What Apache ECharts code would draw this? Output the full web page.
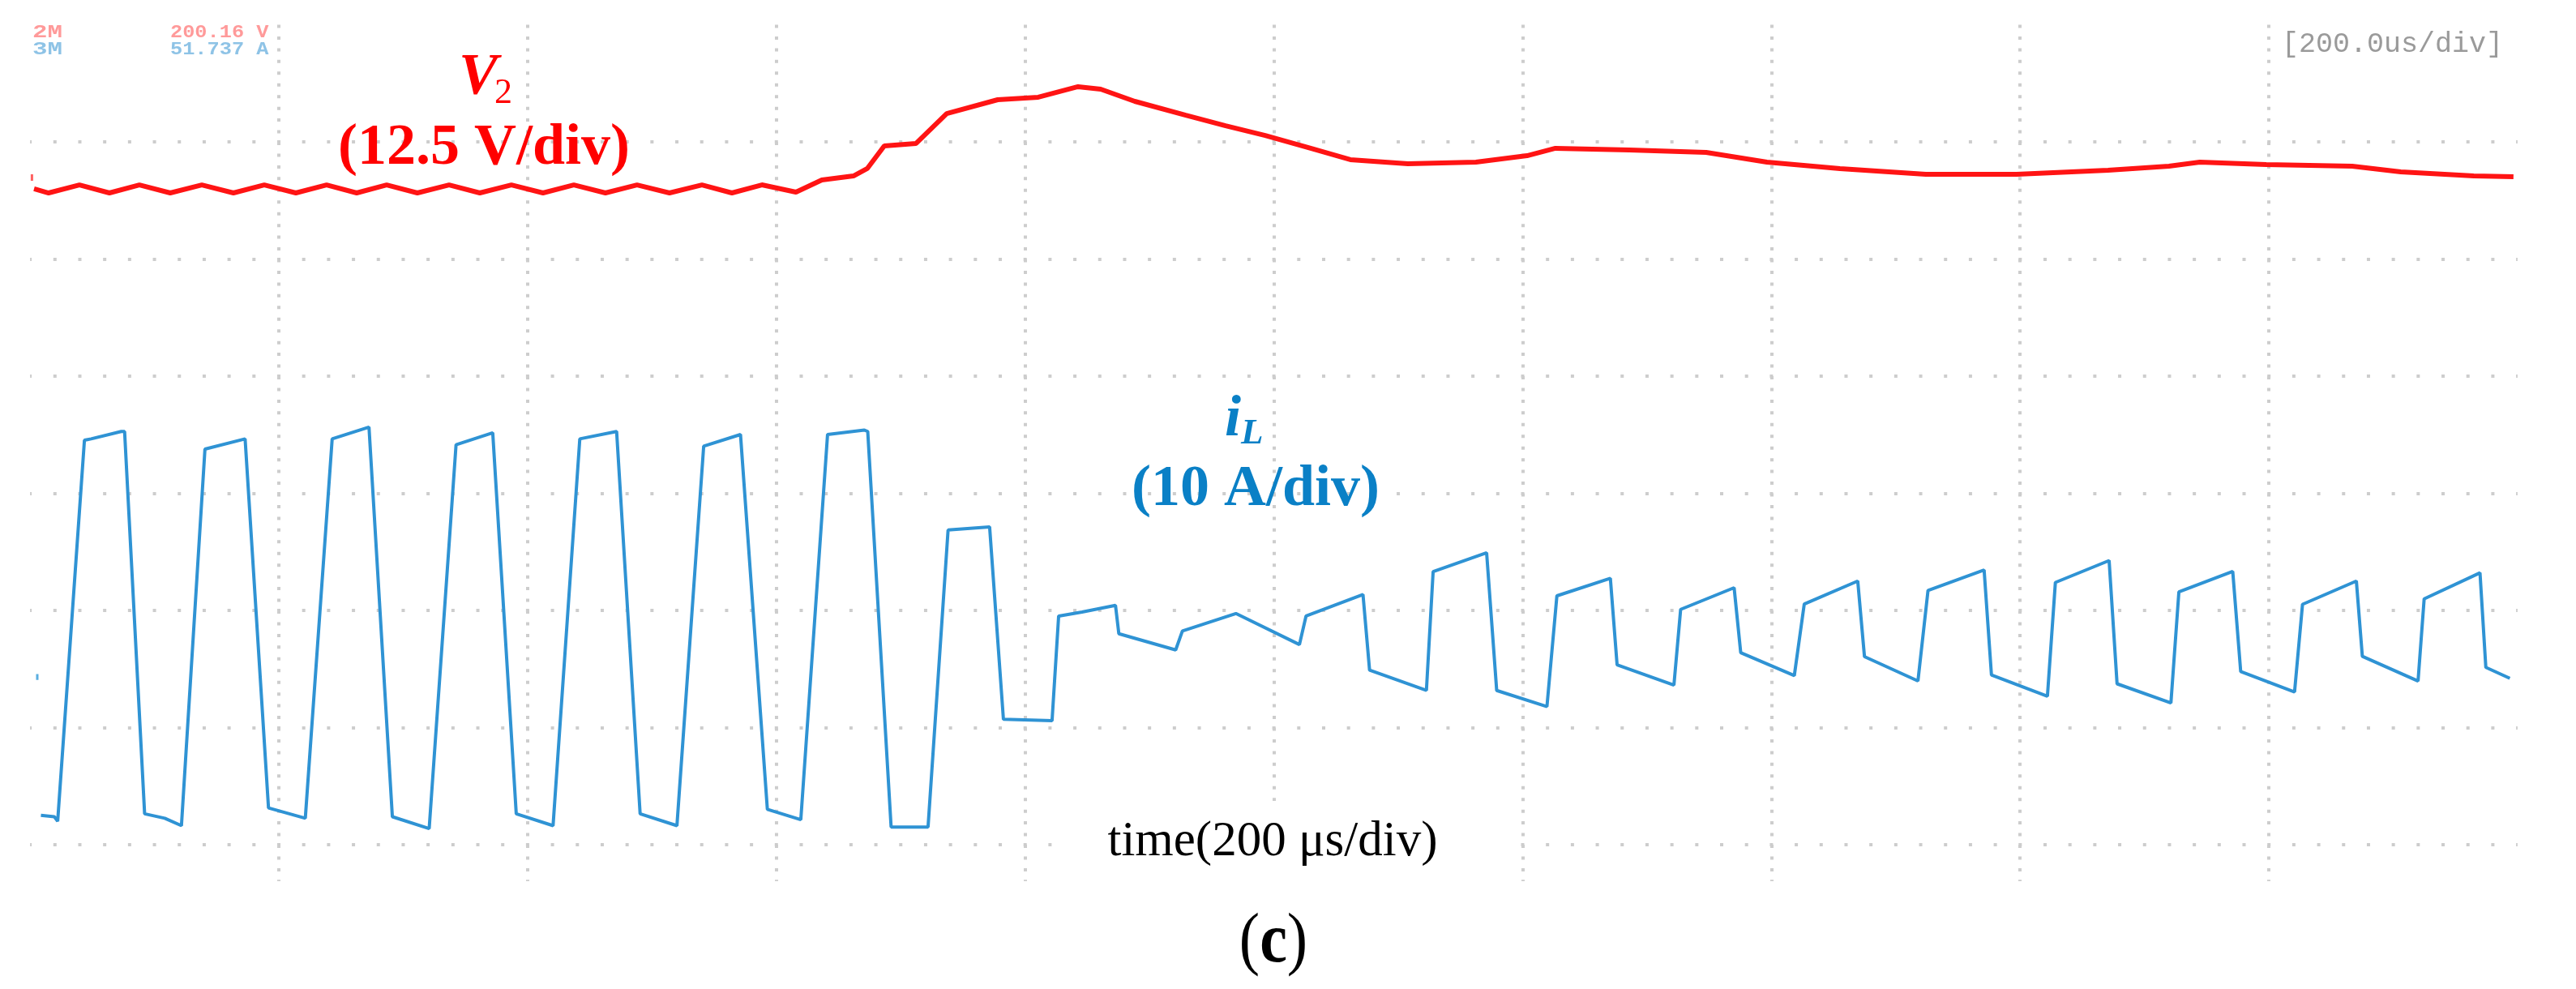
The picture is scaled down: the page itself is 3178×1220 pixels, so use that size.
<!DOCTYPE html>
<html>
<head>
<meta charset="utf-8">
<script src="https://cdn.jsdelivr.net/npm/echarts@6/dist/echarts.min.js"></script>
<style>
html,body{margin:0;padding:0;background:#ffffff;}
#chart{width:3178px;height:1220px;}
</style>
</head>
<body>
<div id="chart"></div>
<script>
// ---- time axis: 10 divisions of 200 us ----
const timeMinUs = 0;
const timeMaxUs = 2000;
const timeDivUs = 200;

// ---- V2 trace (red), vertical position in screen divisions ----
const v2TimeUs = [3.2, 14.9, 39.7, 63.8, 87.9, 112.7, 138.1, 163.5, 188.3, 213.7, 238.4, 262.6, 286.7, 311.4, 336.9, 361.6, 387.0, 412.4, 437.2, 462.6, 488.0, 514.1, 540.2, 564.3, 588.4, 615.8, 636.6, 662.0, 673.1, 686.8, 712.2, 737.0, 778.0, 810.6, 842.6, 860.8, 888.2, 929.2, 961.2, 993.1, 1029.6, 1061.5, 1107.8, 1162.5, 1203.6, 1226.4, 1285.7, 1347.6, 1396.5, 1455.2, 1524.2, 1597.2, 1670.8, 1719.7, 1744.5, 1797.9, 1867.0, 1906.1, 1964.8, 1996.7];
const v2Div = [5.599, 5.564, 5.633, 5.564, 5.633, 5.564, 5.633, 5.564, 5.633, 5.564, 5.633, 5.564, 5.633, 5.564, 5.633, 5.564, 5.633, 5.564, 5.633, 5.564, 5.633, 5.564, 5.633, 5.564, 5.633, 5.571, 5.675, 5.709, 5.772, 5.965, 5.986, 6.242, 6.360, 6.381, 6.471, 6.450, 6.346, 6.228, 6.138, 6.055, 5.945, 5.848, 5.813, 5.827, 5.882, 5.945, 5.931, 5.910, 5.827, 5.772, 5.723, 5.723, 5.758, 5.792, 5.827, 5.806, 5.792, 5.744, 5.709, 5.702];

// ---- iL trace (blue), vertical position in screen divisions ----
const iLTimeUs = [8.7, 19.5, 22.2, 43.7, 49.1, 73.3, 76.0, 92.1, 108.3, 121.7, 140.6, 172.9, 191.7, 221.3, 242.9, 272.5, 291.3, 320.9, 342.5, 372.0, 390.9, 420.5, 442.0, 471.6, 490.5, 520.1, 541.6, 571.2, 592.8, 619.7, 641.2, 670.8, 673.5, 692.3, 722.0, 738.1, 771.5, 782.6, 821.7, 827.0, 845.8, 872.7, 875.4, 921.1, 926.5, 969.5, 1020.6, 1025.9, 1071.7, 1077.0, 1122.7, 1128.1, 1171.1, 1179.2, 1219.6, 1227.6, 1270.6, 1276.0, 1321.7, 1327.1, 1370.1, 1375.4, 1418.5, 1426.5, 1469.5, 1474.9, 1517.9, 1526.0, 1571.1, 1577.0, 1622.0, 1628.4, 1671.6, 1678.0, 1721.3, 1727.7, 1771.0, 1777.4, 1820.7, 1827.1, 1870.4, 1875.2, 1920.0, 1924.9, 1969.8, 1974.5, 1993.8];
const iLDiv = [0.251, 0.239, 0.201, 3.453, 3.465, 3.528, 3.528, 0.264, 0.226, 0.163, 3.377, 3.465, 0.314, 0.226, 3.465, 3.565, 0.239, 0.138, 3.415, 3.516, 0.264, 0.163, 3.465, 3.528, 0.264, 0.163, 3.402, 3.502, 0.302, 0.214, 3.502, 3.540, 3.528, 0.151, 0.151, 2.687, 2.713, 1.071, 1.059, 1.952, 1.986, 2.044, 1.801, 1.663, 1.825, 1.974, 1.709, 1.952, 2.136, 1.490, 1.317, 2.332, 2.493, 1.317, 1.179, 2.125, 2.275, 1.536, 1.363, 2.009, 2.194, 1.640, 1.444, 2.055, 2.251, 1.606, 1.398, 2.171, 2.345, 1.450, 1.268, 2.239, 2.426, 1.374, 1.210, 2.158, 2.333, 1.479, 1.304, 2.052, 2.251, 1.608, 1.397, 2.099, 2.321, 1.514, 1.421];

// ---- channel level markers at the left edge ----
const v2MarkerTimeUs = [1.5, 1.5];
const v2MarkerDiv = [5.668, 5.723];
const iLMarkerTimeUs = [5.8, 5.8];
const iLMarkerDiv = [1.407, 1.457];

// ---- texts ----
const headerCh2 = ['2M', '200.16 V'];
const headerCh3 = ['3M', '51.737 A'];
const timebaseText = '[200.0us/div]';
const timeAxisText = 'time(200 \u03bcs/div)';
const captionLetter = 'c';

const zip = (a, b) => a.map((t, i) => [t, b[i]]);
const serif = '"Liberation Serif","Times New Roman",serif';
const mono = '"Liberation Mono","DejaVu Sans Mono",monospace';

function txt(x, y, text, size, color, o) {
  o = o || {};
  return {
    type: 'text', x: x, y: y, silent: true, z: o.z || 20,
    scaleX: o.sx || 1, scaleY: o.sy || 1,
    style: {
      text: text, fill: color, fontSize: size, fontFamily: o.family || serif,
      fontWeight: o.weight || 'normal', fontStyle: o.style || 'normal',
      align: o.align || 'left', verticalAlign: 'middle', opacity: o.opacity == null ? 1 : o.opacity,
      rich: o.rich
    }
  };
}

const chart = echarts.init(document.getElementById('chart'), null, {renderer: 'canvas', width: 3178, height: 1220});

const option = {
  backgroundColor: '#ffffff',
  animation: false,
  grid: {left: 37.1, right: 72.1, top: 30.5, bottom: 133, containLabel: false},
  xAxis: {
    type: 'value', min: timeMinUs, max: timeMaxUs, interval: timeDivUs,
    axisLine: {show: false}, axisTick: {show: false}, axisLabel: {show: false},
    splitLine: {show: true, showMinLine: false, showMaxLine: false,
      lineStyle: {color: '#cdcdcd', width: 4, type: [4, 10.45], dashOffset: 0}}
  },
  yAxis: {
    type: 'value', min: -0.311, max: 7, minInterval: 1, maxInterval: 1, splitNumber: 7,
    axisLine: {show: false}, axisTick: {show: false}, axisLabel: {show: false},
    splitLine: {show: true, showMinLine: false, showMaxLine: false,
      lineStyle: {color: '#cdcdcd', width: 4, type: [4, 26.69], dashOffset: 2}}
  },
  series: [
    {type: 'line', name: 'V2', data: zip(v2TimeUs, v2Div), showSymbol: false, symbol: 'none',
      lineStyle: {color: '#ff1414', width: 6}, z: 3},
    {type: 'line', name: 'iL', data: zip(iLTimeUs, iLDiv), showSymbol: false, symbol: 'none',
      lineStyle: {color: '#2f93d4', width: 4}, z: 3},
    {type: 'line', name: 'V2 level', data: zip(v2MarkerTimeUs, v2MarkerDiv), showSymbol: false, symbol: 'none',
      lineStyle: {color: '#ff6060', width: 3}, z: 3},
    {type: 'line', name: 'iL level', data: zip(iLMarkerTimeUs, iLMarkerDiv), showSymbol: false, symbol: 'none',
      lineStyle: {color: '#5aaee0', width: 3}, z: 3}
  ],
  graphic: {elements: [
    // white box behind the time label
    {type: 'rect', silent: true, z: 10, shape: {x: 1298, y: 988, width: 552, height: 100}, style: {fill: '#ffffff'}},
    // scope header
    txt(40, 40, headerCh2[0], 22, '#ff9a9a', {family: mono, weight: 'bold', sx: 1.4}),
    txt(210, 40, headerCh2[1], 22, '#ff9a9a', {family: mono, weight: 'bold', sx: 1.15}),
    txt(40, 61, headerCh3[0], 22, '#8ec3e6', {family: mono, weight: 'bold', sx: 1.4}),
    txt(210, 61, headerCh3[1], 22, '#8ec3e6', {family: mono, weight: 'bold', sx: 1.15}),
    txt(2815, 55, timebaseText, 35, '#9a9a9a', {family: mono}),
    // V2 label
    txt(566, 96, 'V', 72, '#ff0000', {weight: 'bold', style: 'italic'}),
    txt(610, 115, '2', 44, '#ff0000', {}),
    txt(597, 183, '(12.5 V/div)', 72, '#ff0000', {weight: 'bold', align: 'center'}),
    // iL label
    txt(1511, 518, 'i', 72, '#0a80c6', {weight: 'bold', style: 'italic'}),
    txt(1531, 535, 'L', 45, '#0a80c6', {weight: 'bold', style: 'italic'}),
    txt(1549, 604, '(10 A/div)', 72, '#0a80c6', {weight: 'bold', align: 'center'}),
    // time label
    txt(1570, 1039, timeAxisText, 61, '#000000', {align: 'center'}),
    // caption
    txt(1571, 1163, '{p|(}{c|' + captionLetter + '}{p|)}', 76, '#000000', {align: 'center', sy: 1.15,
      rich: {p: {fontSize: 76, fontFamily: serif, fill: '#000000'},
             c: {fontSize: 76, fontFamily: serif, fontWeight: 'bold', fill: '#000000'}}})
  ]}
};
chart.setOption(option);
</script>
</body>
</html>
